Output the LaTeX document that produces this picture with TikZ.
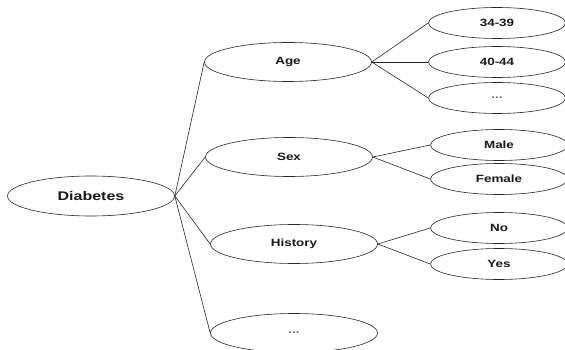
\documentclass[tikz,border=0pt]{standalone}
\usepackage{fontspec}
\setmainfont{Liberation Sans}
\usetikzlibrary{shapes.geometric}
\newcommand{\wlab}[1]{\scalebox{1.28}[1]{\bfseries #1}}
\tikzset{
  base/.style={ellipse, draw=black!85, line width=0.6pt, inner sep=0pt, text=black!90},
  rootbox/.style={base, minimum width=167pt, minimum height=40pt, font=\fontsize{12.5}{14}\selectfont},
  midbox/.style={base, minimum width=167pt, minimum height=39pt, font=\fontsize{10.5}{12}\selectfont},
  leafbox/.style={base, minimum width=137pt, minimum height=31pt, font=\fontsize{10.5}{12}\selectfont},
  link/.style={draw=black!85, line width=0.6pt}
}
\begin{document}
\begin{tikzpicture}[x=1pt,y=-1pt]
\useasboundingbox (0,0) rectangle (565,350);
\node[rootbox] (root) at (91,196) {\wlab{Diabetes}};
\node[midbox] (age) at (288,62) {\wlab{Age}};
\node[midbox] (sex) at (289,157) {\wlab{Sex}};
\node[midbox] (hist) at (294,244) {\wlab{History}};
\node[midbox] (more) at (294,333) {\wlab{\textcolor{black!60}{...}}};
\node[leafbox] (a1) at (497,23) {\wlab{34-39}};
\node[leafbox] (a2) at (497,62) {\wlab{40-44}};
\node[leafbox] (a3) at (497,98) {\wlab{\textcolor{black!60}{...}}};
\node[leafbox] (s1) at (499,145) {\wlab{Male}};
\node[leafbox] (s2) at (499,179) {\wlab{Female}};
\node[leafbox] (h1) at (499,228) {\wlab{No}};
\node[leafbox] (h2) at (499,264) {\wlab{Yes}};
\foreach \m in {age,sex,hist,more} \draw[link] (root.east) -- (\m.west);
\foreach \l in {a1,a2,a3} \draw[link] (age.east) -- (\l.west);
\foreach \l in {s1,s2} \draw[link] (sex.east) -- (\l.west);
\foreach \l in {h1,h2} \draw[link] (hist.east) -- (\l.west);
\end{tikzpicture}
\end{document}
